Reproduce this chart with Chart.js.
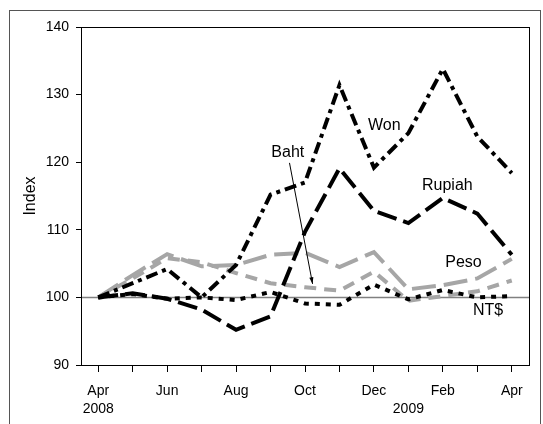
<!DOCTYPE html>
<html>
<head>
<meta charset="utf-8">
<script src="https://cdn.jsdelivr.net/npm/chart.js@4/dist/chart.umd.min.js"></script>
<style>
  html, body { margin: 0; padding: 0; background: #fff; }
  #wrap { position: absolute; left: 0; top: 0; width: 543px; height: 424px; }
</style>
</head>
<body>
<div id="wrap"><canvas id="c" width="543" height="424"></canvas></div>
<script>
// ---- data ----
const months = ['Apr 2008','May','Jun','Jul','Aug','Sep','Oct','Nov','Dec','Jan 2009','Feb','Mar','Apr'];
const tickLabels = [['Apr','2008'], '', 'Jun', '', 'Aug', '', 'Oct', '', 'Dec', ['','2009'], 'Feb', '', 'Apr'];
const won    = [100, 102.1, 104.2, 100.0, 104.8, 115.2, 117.0, 131.4, 119.2, 124.3, 133.8, 123.8, 118.4];
const rupiah = [100, 100.6, 99.8, 98.2, 95.2, 97.2, 109.7, 119.1, 112.8, 111.0, 114.7, 112.4, 106.3];
const ntd    = [100, 100.5, 99.8, 100.0, 99.6, 100.8, 99.1, 98.9, 101.9, 99.7, 101.1, 100.0, 100.2];
const peso   = [100, 103.3, 106.4, 104.6, 104.8, 106.3, 106.6, 104.5, 106.7, 101.2, 101.8, 102.8, 105.7];
const baht   = [100, 102.8, 105.8, 105.2, 103.6, 102.1, 101.5, 101.0, 103.8, 99.5, 100.2, 100.9, 102.5];
const yTicks = [90, 100, 110, 120, 130, 140];
const refLine = 100;
// labels: [text, category position, value]
const seriesLabels = [
  ['Won', 8.3, 125.4],
  ['Rupiah', 10.13, 116.6],
  ['Baht', 5.5, 121.4],
  ['Peso', 10.6, 105.2],
  ['NT$', 11.31, 98.0]
];
const bahtArrow = [[5.55, 119.9], [6.22, 102.0]];

const FONT = "'Liberation Sans', Arial, Helvetica, sans-serif";

const decor = {
  id: 'decor',
  beforeDatasetsDraw(chart) {
    const ctx = chart.ctx, a = chart.chartArea, y = chart.scales.y;
    ctx.save();
    // outer frame
    ctx.strokeStyle = '#555';
    ctx.lineWidth = 1;
    ctx.strokeRect(9.5, 10.5, 531, 430);
    // reference line at 100
    const py = Math.round(y.getPixelForValue(refLine)) + 0.5;
    ctx.strokeStyle = '#808080';
    ctx.lineWidth = 1.5;
    ctx.beginPath();
    ctx.moveTo(a.left, py);
    ctx.lineTo(a.right, py);
    ctx.stroke();
    ctx.restore();
  },
  afterDatasetsDraw(chart) {
    const ctx = chart.ctx, a = chart.chartArea, x = chart.scales.x, y = chart.scales.y;
    ctx.save();
    ctx.strokeStyle = '#000';
    ctx.lineWidth = 1;
    ctx.strokeRect(Math.round(a.left) + 0.5, Math.round(a.top) + 0.5,
                   Math.round(a.right - a.left), Math.round(a.bottom - a.top));
    ctx.fillStyle = '#000';
    ctx.font = '16px ' + FONT;
    ctx.textAlign = 'center';
    ctx.textBaseline = 'middle';
    seriesLabels.forEach(([t, i, v]) => {
      ctx.fillText(t, x.getPixelForValue(i), y.getPixelForValue(v));
    });
    // arrow for Baht
    const x0 = x.getPixelForValue(bahtArrow[0][0]), y0 = y.getPixelForValue(bahtArrow[0][1]);
    const x1 = x.getPixelForValue(bahtArrow[1][0]), y1 = y.getPixelForValue(bahtArrow[1][1]);
    ctx.beginPath();
    ctx.moveTo(x0, y0);
    ctx.lineTo(x1, y1);
    ctx.stroke();
    const ang = Math.atan2(y1 - y0, x1 - x0), L = 7, W = 0.3;
    ctx.beginPath();
    ctx.moveTo(x1, y1);
    ctx.lineTo(x1 - L * Math.cos(ang - W), y1 - L * Math.sin(ang - W));
    ctx.lineTo(x1 - L * Math.cos(ang + W), y1 - L * Math.sin(ang + W));
    ctx.closePath();
    ctx.fill();
    ctx.restore();
  }
};

const common = { pointRadius: 0, fill: false, tension: 0, borderCapStyle: 'butt', borderJoinStyle: 'miter' };

new Chart(document.getElementById('c'), {
  type: 'line',
  data: {
    labels: months,
    datasets: [
      Object.assign({ label: 'Won', data: won, borderColor: '#000', borderWidth: 4, borderDash: [12, 5, 4, 5] }, common),
      Object.assign({ label: 'Rupiah', data: rupiah, borderColor: '#000', borderWidth: 4, borderDash: [20, 7] }, common),
      Object.assign({ label: 'NT$', data: ntd, borderColor: '#000', borderWidth: 4, borderDash: [5, 6] }, common),
      Object.assign({ label: 'Peso', data: peso, borderColor: '#a6a6a6', borderWidth: 4, borderDash: [24, 8] }, common),
      Object.assign({ label: 'Baht', data: baht, borderColor: '#a6a6a6', borderWidth: 4, borderDash: [12, 8] }, common)
    ]
  },
  options: {
    responsive: false,
    animation: false,
    devicePixelRatio: 1,
    layout: { padding: { left: 0, top: 27, right: 14, bottom: 0 } },
    plugins: { legend: { display: false }, tooltip: { enabled: false } },
    scales: {
      x: {
        type: 'category',
        offset: true,
        grid: { display: true, offset: false, drawOnChartArea: false, drawTicks: true, tickLength: 7, color: '#000', lineWidth: 1 },
        border: { display: true, color: '#000', width: 1 },
        ticks: {
          autoSkip: false, maxRotation: 0, minRotation: 0, padding: 10,
          color: '#000', font: { family: FONT, size: 14, lineHeight: 1.3 },
          callback: (v, i) => tickLabels[i]
        },
        afterFit: (s) => { s.height = 59; }
      },
      y: {
        min: 90, max: 140,
        afterBuildTicks: (s) => { s.ticks = yTicks.map(v => ({ value: v })); },
        grid: { display: true, drawOnChartArea: false, drawTicks: true, tickLength: 5, color: '#000', lineWidth: 1 },
        border: { display: true, color: '#000', width: 1 },
        ticks: { padding: 7, color: '#000', font: { family: FONT, size: 14 } },
        title: { display: true, text: 'Index', color: '#000', font: { family: FONT, size: 16 }, padding: { top: 21, bottom: 0 } },
        afterFit: (s) => { s.width = 81; }
      }
    }
  },
  plugins: [decor]
});
</script>
</body>
</html>
